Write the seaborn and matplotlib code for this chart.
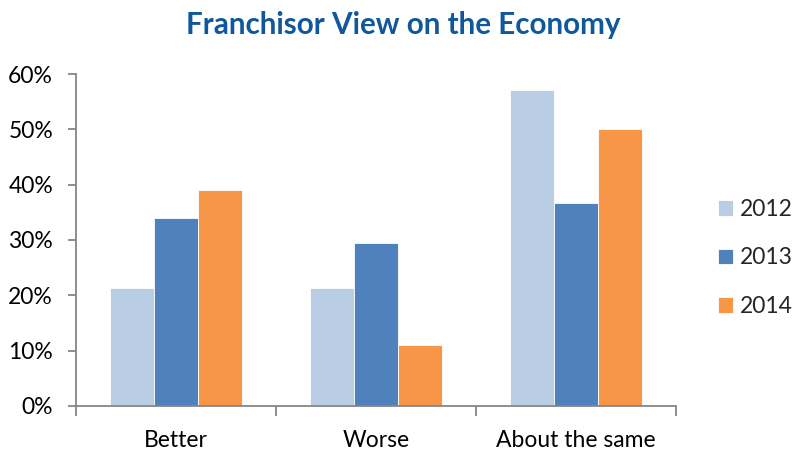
import matplotlib.pyplot as plt
import pandas as pd
import seaborn as sns
from matplotlib.ticker import PercentFormatter

sns.set_theme(style="white")
plt.rcParams["font.family"] = ["Lato", "DejaVu Sans"]

categorias = ["Better", "Worse", "About the same"]
anos = ["2012", "2013", "2014"]
valores_2012 = [21.3, 21.3, 57.1]
valores_2013 = [33.9, 29.4, 36.7]
valores_2014 = [39.0, 11.0, 50.0]
cores = ["#B9CDE5", "#4F81BD", "#F79646"]

base = pd.DataFrame({
    "Categoria": categorias * 3,
    "Ano": [a for a in anos for _ in categorias],
    "Valor": valores_2012 + valores_2013 + valores_2014,
})

fig = plt.figure(figsize=(7.93, 4.53), dpi=100)
ax = fig.add_axes([0.0958, 0.1038, 0.757, 0.7328])

sns.barplot(data=base, x="Categoria", y="Valor", hue="Ano", order=categorias,
            hue_order=anos, palette=cores, width=0.66, saturation=1,
            edgecolor="white", linewidth=0.6, ax=ax)

cinza = "#868686"
tam = 16.5
ax.set_ylim(0, 60)
ax.set_xlim(-0.5, 2.5)
ax.set_yticks(range(0, 61, 10))
ax.yaxis.set_major_formatter(PercentFormatter(decimals=0))
ax.set_xlabel("")
ax.set_ylabel("")
sns.despine(ax=ax)
for lado in ["left", "bottom"]:
    ax.spines[lado].set_color(cinza)
    ax.spines[lado].set_linewidth(1.3)

ax.tick_params(axis="y", which="major", direction="out", length=5.5, width=1.3,
               color=cinza, labelsize=tam, labelcolor="black", pad=11, left=True)
ax.tick_params(axis="x", which="major", length=0, labelsize=tam,
               labelcolor="black", pad=17)
ax.set_xticks([-0.5, 0.5, 1.5, 2.5], minor=True)
ax.tick_params(axis="x", which="minor", direction="out", length=7, width=1.3,
               color=cinza, bottom=True)

ax.legend(loc="center left", bbox_to_anchor=(1.055, 0.446), frameon=False,
          borderaxespad=0, fontsize=tam, handlelength=0.65, handleheight=0.65,
          handletextpad=0.28, labelspacing=1.2)

fig.suptitle("Franchisor View on the Economy", x=0.508, y=0.975,
             fontsize=21.3, fontweight="bold", color="#10589B")

plt.savefig("out.png", dpi=100)
plt.close()
